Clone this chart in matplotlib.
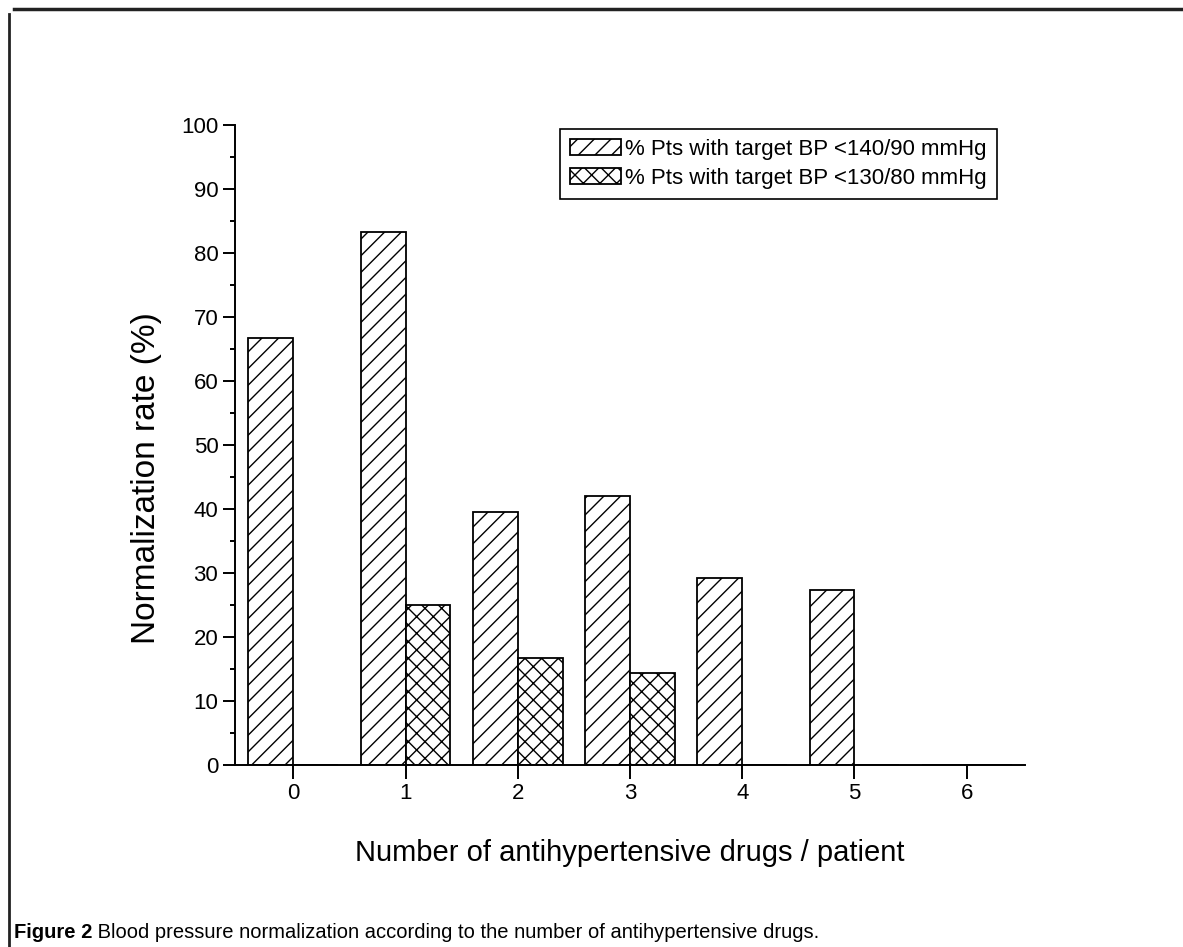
import matplotlib
matplotlib.use("Agg")
import matplotlib.pyplot as plt
import numpy as np
from matplotlib.lines import Line2D
from matplotlib.ticker import MultipleLocator

# values
drugs = [0, 1, 2, 3, 4, 5, 6]
pct_140_90 = [66.7, 83.3, 39.5, 42.1, 29.2, 27.3, 0.0]
pct_130_80 = [0.0, 25.0, 16.7, 14.3, 0.0, 0.0, 0.0]
labels = ["% Pts with target BP <140/90 mmHg", "% Pts with target BP <130/80 mmHg"]
caption_bold = "Figure 2"
caption_text = " Blood pressure normalization according to the number of antihypertensive drugs."

plt.rcParams.update(
    {
        "font.family": ["Liberation Sans", "DejaVu Sans"],
        "hatch.color": "#6a6a6a",
        "hatch.linewidth": 1.0,
    }
)

W, H = 1183, 947
fig = plt.figure(figsize=(W / 100, H / 100), dpi=100)
ax = fig.add_axes([235 / W, 1 - 765 / H, (1025 - 235) / W, (765 - 125) / H])

x = np.array(drugs, dtype=float)
width = 0.4
bars_a = ax.bar(x - width / 2, pct_140_90, width, facecolor="white", edgecolor="black",
                linewidth=1.3, hatch="//", label=labels[0], zorder=2)
bars_b = ax.bar(x + width / 2, pct_130_80, width, facecolor="white", edgecolor="black",
                linewidth=1.3, hatch="xx", label=labels[1], zorder=2)

ax.set_xlim(-0.52, 6.52)
ax.set_ylim(0, 100)
ax.set_xticks(drugs)
ax.yaxis.set_major_locator(MultipleLocator(10))
ax.yaxis.set_minor_locator(MultipleLocator(5))

for side in ("top", "right"):
    ax.spines[side].set_visible(False)
for side in ("left", "bottom"):
    ax.spines[side].set_linewidth(1.4)

ax.tick_params(axis="both", which="major", direction="out", width=1.4, labelsize=16, pad=3)
ax.tick_params(axis="x", which="major", length=10)
ax.tick_params(axis="y", which="major", length=9)
ax.tick_params(axis="y", which="minor", direction="out", length=3.6, width=1.4)

ax.set_xlabel("Number of antihypertensive drugs / patient", fontsize=21, labelpad=25)
ax.set_ylabel("Normalization rate (%)", fontsize=24)
ax.yaxis.set_label_coords(-0.092, 0.448)

ax.legend(
    [bars_a[0], bars_b[0]],
    labels,
    loc="upper right",
    bbox_to_anchor=(997 / W, 1 - 129 / H),
    bbox_transform=fig.transFigure,
    fontsize=16,
    frameon=True,
    fancybox=False,
    edgecolor="black",
    framealpha=1,
    borderaxespad=0,
    handlelength=2.3,
    handleheight=0.75,
    handletextpad=0.2,
    labelspacing=0.35,
    borderpad=0.45,
)
ax.get_legend().get_frame().set_linewidth(1.2)

# page border (top and left)
fig.add_artist(Line2D([14 / W, 1.0], [1 - 9 / H, 1 - 9 / H], transform=fig.transFigure,
                      color="#222222", linewidth=2.5))
fig.add_artist(Line2D([9 / W, 9 / W], [0.0, 1 - 14 / H], transform=fig.transFigure,
                      color="#222222", linewidth=2.0))

# caption
t1 = fig.text(14 / W, 1 - 938 / H, caption_bold, fontsize=14.5, fontweight="bold",
              va="baseline")
renderer = fig.canvas.get_renderer()
bb = t1.get_window_extent(renderer)
fig.text(bb.x1 / W, 1 - 938 / H, caption_text, fontsize=14.5, va="baseline")

fig.savefig("out.png", dpi=100)
